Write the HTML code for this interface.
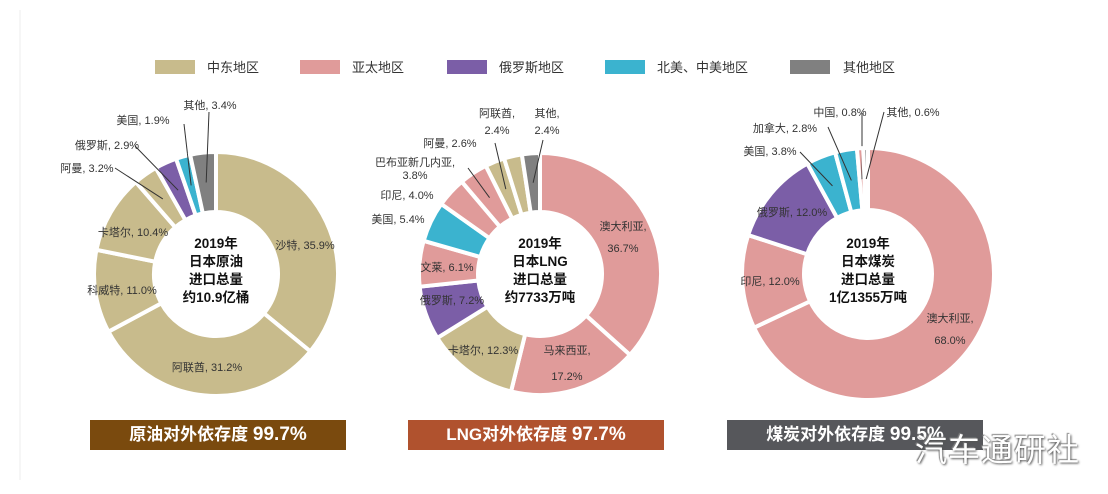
<!DOCTYPE html>
<html><head><meta charset="utf-8">
<style>
body{margin:0;background:#fff;}
#wrap{position:relative;width:1108px;height:494px;overflow:hidden;background:#fff;font-family:"Liberation Sans","Noto Sans CJK SC",sans-serif;}
svg{position:absolute;left:0;top:0;}
.banner{position:absolute;top:420px;width:256px;height:30px;color:#fff;font-size:17px;font-weight:bold;text-align:center;line-height:30px;}
.banner b{font-size:19px;}
#wm{position:absolute;left:915px;top:425px;font-size:32px;color:#fff;font-family:"Noto Sans CJK SC",sans-serif;text-shadow:1px 1px 2px #555,-1px -1px 1px #888;letter-spacing:1px;}
</style></head><body>
<div id="wrap">
<svg id="svg" width="1108" height="494">
 <line x1="20" y1="10" x2="20" y2="480" stroke="#eee" stroke-width="1"/>
 <g font-size="13" fill="#333">
  <rect x="155" y="60" width="40" height="14" fill="#c8bb8c"/>
  <text x="207" y="72">中东地区</text>
  <rect x="300" y="60" width="40" height="14" fill="#e09b9a"/>
  <text x="352" y="72">亚太地区</text>
  <rect x="447" y="60" width="40" height="14" fill="#7b5ea7"/>
  <text x="499" y="72">俄罗斯地区</text>
  <rect x="605" y="60" width="40" height="14" fill="#3bb3cf"/>
  <text x="657" y="72">北美、中美地区</text>
  <rect x="790" y="60" width="40" height="14" fill="#808080"/>
  <text x="843" y="72">其他地区</text>
 </g>
</svg>
<div class="banner" style="left:90px;background:#7a4a0e">原油对外依存度 <b>99.7%</b></div>
<div class="banner" style="left:408px;background:#b0522e">LNG对外依存度 <b>97.7%</b></div>
<div class="banner" style="left:727px;background:#56575b">煤炭对外依存度 <b>99.5%</b></div>
<div id="wm">汽车通研社</div>
</div>
<script>
const C={me:"#c8bb8c",ap:"#e09b9a",ru:"#7b5ea7",am:"#3bb3cf",ot:"#808080"};
// Oil
const oilCats=["沙特","阿联酋","科威特","卡塔尔","阿曼","俄罗斯","美国","其他"];
const oilVals=[35.9,31.2,11.0,10.4,3.2,2.9,1.9,3.4];
const oilRegions=["me","me","me","me","me","ru","am","ot"];
// LNG
const lngCats=["澳大利亚","马来西亚","卡塔尔","俄罗斯","文莱","美国","印尼","巴布亚新几内亚","阿曼","阿联酋","其他"];
const lngVals=[36.7,17.2,12.3,7.2,6.1,5.4,4.0,3.8,2.6,2.4,2.4];
const lngRegions=["ap","ap","me","ru","ap","am","ap","ap","me","me","ot"];
// Coal
const coalCats=["澳大利亚","印尼","俄罗斯","美国","加拿大","中国","其他"];
const coalVals=[68.0,12.0,12.0,3.8,2.8,0.8,0.6];
const coalRegions=["ap","ap","ru","am","am","ap","ot"];

const svg=document.getElementById('svg');
const NS="http://www.w3.org/2000/svg";
function pt(cx,cy,r,a){return [cx+r*Math.sin(a),cy-r*Math.cos(a)];}
function donut(name,cx,cy,R,r,cats,vals,regs,title,labels){
  const g=document.createElementNS(NS,'g');
  
  
  svg.appendChild(g);
  const tot=vals.reduce((a,b)=>a+b,0);
  let a0=0;
  vals.forEach((v,i)=>{
    const a1=a0+v/tot*2*Math.PI;
    const [x1,y1]=pt(cx,cy,R,a0),[x2,y2]=pt(cx,cy,R,a1),[x3,y3]=pt(cx,cy,r,a1),[x4,y4]=pt(cx,cy,r,a0);
    const lg=(a1-a0)>Math.PI?1:0;
    const p=document.createElementNS(NS,'path');
    p.setAttribute('d',`M${x1},${y1}A${R},${R} 0 ${lg} 1 ${x2},${y2}L${x3},${y3}A${r},${r} 0 ${lg} 0 ${x4},${y4}Z`);
    p.setAttribute('fill',C[regs[i]]);
    p.setAttribute('stroke','#fff');
    p.setAttribute('stroke-width','4');
    
    
    g.appendChild(p);
    const L=labels[i];
    if(L){
      if(L.line){
        const mid=(a0+a1)/2;const [mx,my]=pt(cx,cy,(R+r)/2,mid);
        const ln=document.createElementNS(NS,'line');
        ln.setAttribute('x1',mx);ln.setAttribute('y1',my);ln.setAttribute('x2',L.line[0]);ln.setAttribute('y2',L.line[1]);
        ln.setAttribute('stroke','#333');ln.setAttribute('stroke-width','1');
        
        
        g.appendChild(ln);
      }
      const t=document.createElementNS(NS,'text');
      t.setAttribute('text-anchor','middle');t.setAttribute('font-size','11');t.setAttribute('fill','#333');
      
      
      if(L.two){
        const s1=document.createElementNS(NS,'tspan');s1.setAttribute('x',L.x);s1.setAttribute('y',L.y);s1.textContent=cats[i]+',';
        const s2=document.createElementNS(NS,'tspan');s2.setAttribute('x',L.x);s2.setAttribute('y',L.y+(L.gap||20));s2.textContent=vals[i].toFixed(1)+'%';
        t.appendChild(s1);t.appendChild(s2);
      } else {t.setAttribute('x',L.x);t.setAttribute('y',L.y);t.textContent=cats[i]+', '+vals[i].toFixed(1)+'%';}
      g.appendChild(t);
    }
    a0=a1;
  });
  const ct=document.createElementNS(NS,'text');
  ct.setAttribute('text-anchor','middle');ct.setAttribute('font-size','13.5');ct.setAttribute('font-weight','bold');ct.setAttribute('fill','#111');
  
  
  title.forEach((s,k)=>{const ts=document.createElementNS(NS,'tspan');ts.setAttribute('x',cx);ts.setAttribute('y',cy-26+k*18);ts.textContent=s;ct.appendChild(ts);});
  g.appendChild(ct);
}
donut('oil',216,274,122,62,oilCats,oilVals,oilRegions,["2019年","日本原油","进口总量","约10.9亿桶"],[
 {x:305,y:249},{x:207,y:371},{x:122,y:294},{x:133,y:236},{x:87,y:172,line:[115,168]},{x:107,y:149,line:[135,146]},{x:143,y:124,line:[184,124]},{x:210,y:109,line:[209,112]}]);
donut('lng',540,274,121,62,lngCats,lngVals,lngRegions,["2019年","日本LNG","进口总量","约7733万吨"],[
 {x:623,y:230,two:true,gap:22},{x:567,y:354,two:true,gap:26},{x:483,y:354},{x:452,y:304},{x:447,y:271},{x:398,y:223},{x:407,y:199},{x:415,y:166,two:true,gap:13,line:[468,168]},{x:450,y:147,line:[495,143]},{x:497,y:117,two:true,gap:17},{x:547,y:117,two:true,gap:17,line:[543,140]}]);
donut('coal',868,274,126,64,coalCats,coalVals,coalRegions,["2019年","日本煤炭","进口总量","1亿1355万吨"],[
 {x:950,y:322,two:true,gap:22},{x:770,y:285},{x:792,y:216},{x:770,y:155,line:[800,152]},{x:785,y:132,line:[828,127]},{x:840,y:116,line:[862,113]},{x:913,y:116,line:[884,112]}]);
</script>
</body></html>
